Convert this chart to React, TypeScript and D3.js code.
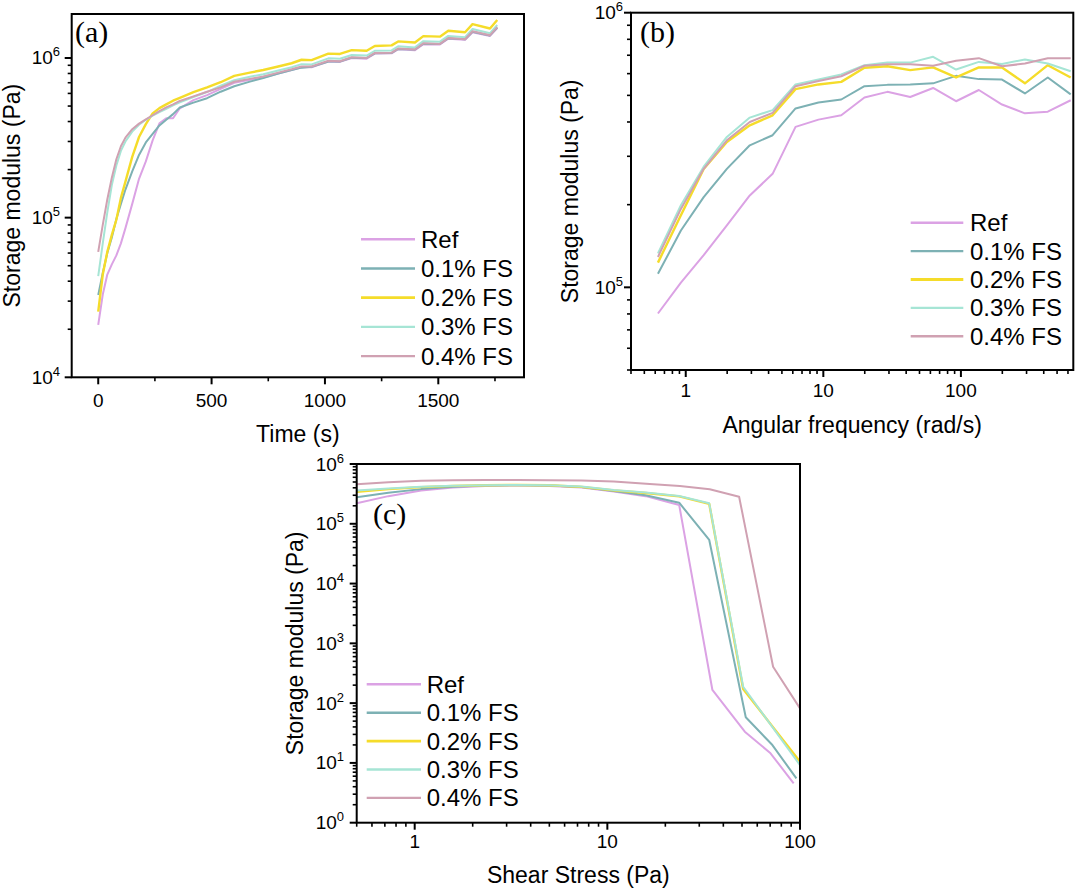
import React from 'react';
import * as d3 from 'd3';

const W = 1080;
const H = 893;
const SANS = '"Liberation Sans", Arial, sans-serif';
const SERIF = '"Liberation Serif", "Times New Roman", serif';

const seriesNames = ['Ref', '0.1% FS', '0.2% FS', '0.3% FS', '0.4% FS'];
const seriesColors = ['#dba2e4', '#7db1b4', '#f5dc2a', '#a6e5d5', '#d0a1b2'];

// (a) time sweep, storage modulus in kPa
const timeSec = [0, 20, 40, 60, 80, 100, 120, 150, 180, 210, 240, 270, 300, 330, 360, 420, 480, 540, 600, 669,
  728, 794, 853, 897, 941, 1015, 1066, 1118, 1184, 1220, 1294, 1323, 1397, 1434, 1507, 1544, 1618, 1651, 1728, 1760];
const timeRef = [21.3, 33, 44, 51, 58, 69, 86, 122, 175, 225, 305, 390, 419, 419, 484, 545, 585, 640, 700, 730,
  755, 800, 840, 875, 875, 950, 945, 1000, 990, 1065, 1070, 1135, 1120, 1220, 1215, 1320, 1300, 1450, 1375, 1540];
const time01 = [32.8, 45, 60, 75, 98, 122, 150, 195, 247, 296, 335, 378, 410, 445, 490, 525, 560, 615, 665, 711,
  750, 800, 840, 870, 880, 950, 950, 1005, 1000, 1070, 1075, 1140, 1130, 1230, 1225, 1330, 1310, 1460, 1385, 1550];
const time02 = [25.8, 44, 61, 78, 97, 133, 168, 240, 320, 385, 450, 485, 512, 540, 563, 612, 655, 705, 772, 810,
  841, 885, 927, 975, 970, 1065, 1060, 1120, 1110, 1190, 1200, 1270, 1250, 1370, 1360, 1480, 1450, 1630, 1530, 1730];
const time03 = [43, 69, 108, 160, 212, 262, 300, 346, 382, 410, 435, 458, 480, 505, 528, 570, 612, 670, 725, 764,
  790, 835, 875, 915, 912, 995, 990, 1045, 1035, 1110, 1115, 1185, 1165, 1275, 1265, 1375, 1350, 1520, 1430, 1610];
const time04 = [61, 90, 130, 178, 232, 280, 317, 358, 388, 412, 438, 465, 490, 512, 538, 575, 615, 655, 710, 740,
  765, 810, 850, 885, 885, 960, 955, 1010, 1000, 1075, 1080, 1145, 1130, 1235, 1225, 1335, 1310, 1470, 1390, 1560];

// (b) frequency sweep, storage modulus in kPa
const freqRad = [0.628, 0.922, 1.35, 1.99, 2.92, 4.28, 6.28, 9.22, 13.5, 19.9, 29.2, 42.8, 62.8, 92.2, 135, 199, 292, 428, 628];
const freqRef = [80.3, 104, 131, 168, 216, 259, 384, 408, 423, 491, 515, 493, 532, 476, 523, 463, 430, 436, 480];
const freq01 = [112, 161, 213, 270, 329, 358, 448, 471, 483, 540, 546, 548, 553, 589, 573, 571, 508, 581, 504];
const freq02 = [123, 183, 270, 338, 389, 423, 527, 548, 560, 630, 638, 618, 632, 581, 632, 632, 553, 644, 581];
const freq03 = [133, 199, 275, 353, 415, 442, 548, 571, 596, 644, 659, 658, 691, 621, 662, 650, 676, 653, 612];
const freq04 = [129, 193, 270, 343, 400, 432, 540, 564, 587, 641, 649, 649, 641, 668, 683, 638, 653, 683, 683];

// (c) stress sweep, storage modulus in Pa
const stressRef = [0.5, 0.73, 1.08, 1.58, 2.32, 3.41, 5.0, 7.34, 10.8, 15.8, 23.6, 35.1, 51.7, 70.3, 92.7];
const modRef = [2.2e5, 2.9e5, 3.6e5, 4.05e5, 4.3e5, 4.4e5, 4.3e5, 4.05e5, 3.45e5, 2.9e5, 2.06e5, 166, 33.3, 14.5, 4.55];
const stress01 = [0.5, 0.73, 1.08, 1.58, 2.32, 3.41, 5.0, 7.34, 10.8, 15.8, 23.6, 33.8, 52.3, 71.9, 95.8];
const mod01 = [2.77e5, 3.3e5, 3.8e5, 4.15e5, 4.35e5, 4.42e5, 4.35e5, 4.12e5, 3.52e5, 3.0e5, 2.25e5, 5.36e4, 58, 19.9, 5.5];
const stress02 = [0.5, 0.73, 1.08, 1.58, 2.32, 3.41, 5.0, 7.34, 10.8, 15.8, 23.6, 33.8, 50.7, 100];
const mod02 = [3.44e5, 3.8e5, 4.1e5, 4.3e5, 4.42e5, 4.45e5, 4.4e5, 4.15e5, 3.62e5, 3.28e5, 2.88e5, 2.15e5, 172, 10.5];
const stress03 = [0.5, 0.73, 1.08, 1.58, 2.32, 3.41, 5.0, 7.34, 10.8, 15.8, 23.6, 33.8, 50.7, 100];
const mod03 = [3.6e5, 3.9e5, 4.15e5, 4.32e5, 4.42e5, 4.45e5, 4.42e5, 4.2e5, 3.68e5, 3.35e5, 2.92e5, 2.2e5, 188, 9.2];
const stress04 = [0.5, 0.73, 1.08, 1.58, 2.32, 3.41, 5.0, 7.34, 10.8, 16.6, 23.8, 34.0, 48.3, 72.5, 100];
const mod04 = [4.57e5, 4.97e5, 5.26e5, 5.35e5, 5.4e5, 5.4e5, 5.37e5, 5.28e5, 5.1e5, 4.62e5, 4.28e5, 3.78e5, 2.84e5, 406, 81.8];

const KPA = 1000;

type Box = { left: number; right: number; top: number; bottom: number };
type XScale = d3.ScaleLinear<number, number> | d3.ScaleLogarithmic<number, number>;

interface PanelProps {
  id: string;
  box: Box;
  x: XScale;
  y: d3.ScaleLogarithmic<number, number>;
  xMajor: number[];
  xMinor: number[];
  yLabelX: number;
  xLabelY: number;
  xTitle: string;
  xTitleY: number;
  yTitleX: number;
  tag: string;
  tagX: number;
  tagY: number;
  legend: { x1: number; x2: number; tx: number; y0: number; dy: number };
  lines: { xs: number[]; ys: number[] }[];
}

const isPow10 = (v: number) => Math.abs(Math.log10(v) - Math.round(Math.log10(v))) < 1e-9;

function Panel(p: PanelProps) {
  const { box, x, y } = p;
  const yTicks = y.ticks();
  const yMajor = yTicks.filter(isPow10);
  const yMinor = yTicks.filter((v) => !isPow10(v));
  const midY = (box.top + box.bottom) / 2;
  const midX = (box.left + box.right) / 2;

  return (
    <g>
      <defs>
        <clipPath id={`clip-${p.id}`}>
          <rect x={box.left} y={box.top} width={box.right - box.left} height={box.bottom - box.top} />
        </clipPath>
      </defs>

      <g clipPath={`url(#clip-${p.id})`}>
        {p.lines.map((l, i) => {
          const pts: [number, number][] = l.xs.map((v, j) => [x(v), y(l.ys[j])]);
          return (
            <path
              key={i}
              d={d3.line()(pts) ?? ''}
              fill="none"
              stroke={seriesColors[i]}
              strokeWidth={i === 2 ? 2.4 : 2}
              strokeLinejoin="round"
            />
          );
        })}
      </g>

      <rect
        x={box.left}
        y={box.top}
        width={box.right - box.left}
        height={box.bottom - box.top}
        fill="none"
        stroke="#000"
        strokeWidth={2}
      />

      {/* x ticks */}
      {p.xMajor.map((v) => (
        <g key={`xM${v}`}>
          <line x1={x(v)} x2={x(v)} y1={box.bottom} y2={box.bottom + 7} stroke="#000" strokeWidth={2} />
          <text x={x(v)} y={p.xLabelY} textAnchor="middle" fontFamily={SANS} fontSize={19}>
            {String(v)}
          </text>
        </g>
      ))}
      {p.xMinor.map((v) => (
        <line key={`xm${v}`} x1={x(v)} x2={x(v)} y1={box.bottom} y2={box.bottom + 4} stroke="#000" strokeWidth={1.6} />
      ))}

      {/* y ticks */}
      {yMajor.map((v) => (
        <g key={`yM${v}`}>
          <line x1={box.left - 7} x2={box.left} y1={y(v)} y2={y(v)} stroke="#000" strokeWidth={2} />
          <text x={p.yLabelX} y={y(v) + 6.5} textAnchor="end" fontFamily={SANS} fontSize={19}>
            <tspan>10</tspan>
            <tspan dy={-8} fontSize={13}>
              {Math.round(Math.log10(v))}
            </tspan>
          </text>
        </g>
      ))}
      {yMinor.map((v) => (
        <line key={`ym${v}`} x1={box.left - 4} x2={box.left} y1={y(v)} y2={y(v)} stroke="#000" strokeWidth={1.6} />
      ))}

      <text x={midX} y={p.xTitleY} textAnchor="middle" fontFamily={SANS} fontSize={23}>
        {p.xTitle}
      </text>
      <text
        transform={`translate(${p.yTitleX},${midY}) rotate(-90)`}
        textAnchor="middle"
        fontFamily={SANS}
        fontSize={23}
      >
        Storage modulus (Pa)
      </text>

      <text x={p.tagX} y={p.tagY} fontFamily={SERIF} fontSize={30}>
        {p.tag}
      </text>

      {seriesNames.map((name, i) => {
        const ly = p.legend.y0 + i * p.legend.dy;
        return (
          <g key={name}>
            <line
              x1={p.legend.x1}
              x2={p.legend.x2}
              y1={ly}
              y2={ly}
              stroke={seriesColors[i]}
              strokeWidth={i === 2 ? 2.8 : 2.4}
            />
            <text x={p.legend.tx} y={ly + 8.5} fontFamily={SANS} fontSize={24}>
              {name}
            </text>
          </g>
        );
      })}
    </g>
  );
}

export default function App() {
  const boxA = { left: 71.7, right: 524, top: 14, bottom: 377.3 };
  const xA = d3.scaleLinear().domain([-117, 1878]).range([boxA.left, boxA.right]);
  const yA = d3.scaleLog().domain([1e4, 1.886e6]).range([boxA.bottom, boxA.top]);

  const boxB = { left: 631, right: 1073.3, top: 12.7, bottom: 370 };
  const xB = d3.scaleLog().domain([0.4, 656]).range([boxB.left, boxB.right]);
  const yB = d3.scaleLog().domain([5e4, 1e6]).range([boxB.bottom, boxB.top]);

  const boxC = { left: 356.7, right: 800, top: 464, bottom: 822.7 };
  const xC = d3.scaleLog().domain([0.5, 100]).range([boxC.left, boxC.right]);
  const yC = d3.scaleLog().domain([1, 1e6]).range([boxC.bottom, boxC.top]);

  const kpa = (arr: number[]) => arr.map((v) => v * KPA);

  const xBTicks = xB.ticks();
  const xCTicks = xC.ticks();

  return (
    <svg
      width={W}
      height={H}
      viewBox={`0 0 ${W} ${H}`}
      style={{ position: 'absolute', left: 0, top: 0, background: '#fff' }}
    >
      <rect width={W} height={H} fill="#fff" />
      <Panel
        id="a"
        box={boxA}
        x={xA}
        y={yA}
        xMajor={[0, 500, 1000, 1500]}
        xMinor={[250, 750, 1250, 1750]}
        yLabelX={60}
        xLabelY={406.5}
        xTitle="Time (s)"
        xTitleY={441.5}
        yTitleX={20}
        tag="(a)"
        tagX={75}
        tagY={42}
        legend={{ x1: 361, x2: 415, tx: 421, y0: 239.3, dy: 29.2 }}
        lines={[timeRef, time01, time02, time03, time04].map((ys) => ({ xs: timeSec, ys: kpa(ys) }))}
      />
      <Panel
        id="b"
        box={boxB}
        x={xB}
        y={yB}
        xMajor={xBTicks.filter(isPow10)}
        xMinor={xBTicks.filter((v) => !isPow10(v))}
        yLabelX={623}
        xLabelY={396.5}
        xTitle="Angular frequency (rad/s)"
        xTitleY={433}
        yTitleX={578}
        tag="(b)"
        tagX={640}
        tagY={42}
        legend={{ x1: 910.7, x2: 963.3, tx: 970, y0: 222.7, dy: 28.4 }}
        lines={[freqRef, freq01, freq02, freq03, freq04].map((ys) => ({ xs: freqRad, ys: kpa(ys) }))}
      />
      <Panel
        id="c"
        box={boxC}
        x={xC}
        y={yC}
        xMajor={xCTicks.filter(isPow10)}
        xMinor={xCTicks.filter((v) => !isPow10(v))}
        yLabelX={344}
        xLabelY={848}
        xTitle="Shear Stress (Pa)"
        xTitleY={883}
        yTitleX={303}
        tag="(c)"
        tagX={373}
        tagY={524}
        legend={{ x1: 366.7, x2: 421, tx: 426.7, y0: 684.3, dy: 28.4 }}
        lines={[
          { xs: stressRef, ys: modRef },
          { xs: stress01, ys: mod01 },
          { xs: stress02, ys: mod02 },
          { xs: stress03, ys: mod03 },
          { xs: stress04, ys: mod04 },
        ]}
      />
    </svg>
  );
}
